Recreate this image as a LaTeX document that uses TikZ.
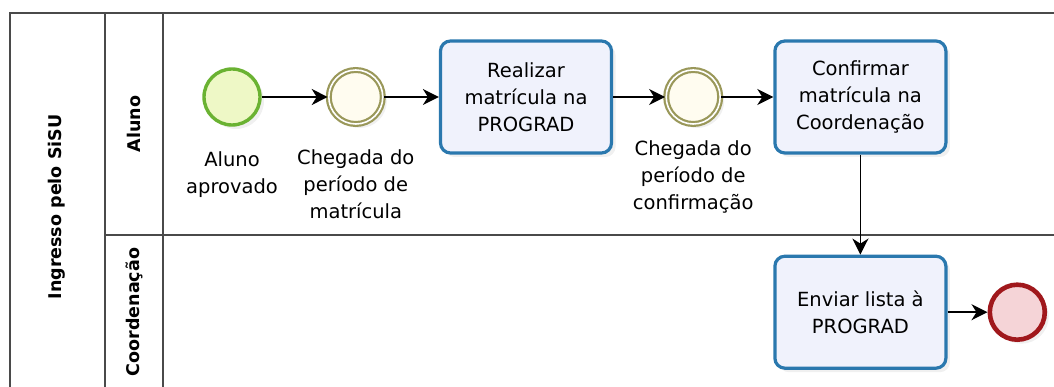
\documentclass[tikz,border=0pt]{standalone}
\usepackage{fontspec}
\setmainfont{DejaVu Sans}
\usepackage{tikz}
\usetikzlibrary{arrows.meta, positioning, shadows}

\definecolor{poolgray}{HTML}{4A4A4A}
\definecolor{taskblue}{HTML}{2A78AE}
\definecolor{taskfill}{HTML}{F0F2FC}
\definecolor{startgreen}{HTML}{6AB232}
\definecolor{startfill}{HTML}{EEF8C6}
\definecolor{interolive}{HTML}{9A985A}
\definecolor{interfill}{HTML}{FFFCF0}
\definecolor{endred}{HTML}{A0181C}
\definecolor{endfill}{HTML}{F5D4D7}

\begin{document}
\begin{tikzpicture}[-,>={Stealth[length=16pt,width=16pt,inset=5pt]},auto,node distance=52pt,
  line width=1.8pt,
  task node/.style={rectangle,rounded corners=10pt,draw=taskblue,line width=3.2pt,fill=taskfill,
    minimum width=171pt,minimum height=112pt,align=center,font=\fontsize{19.5}{27}\selectfont,
    drop shadow={shadow xshift=4pt,shadow yshift=-4pt,opacity=0.12}},
  event node/.style={circle,minimum size=55pt,inner sep=0pt,
    drop shadow={shadow xshift=4pt,shadow yshift=-4pt,opacity=0.12}},
  start node/.style={event node,minimum size=56pt,draw=startgreen,line width=3.4pt,fill=startfill},
  inter node/.style={event node,minimum size=54pt,draw=interolive,line width=2.2pt,double=white,double distance=1.6pt,fill=interfill},
  end node/.style={event node,draw=endred,line width=4.6pt,fill=endfill},
  event label/.style={align=center,font=\fontsize{19.5}{27}\selectfont},
  lane title/.style={rotate=90,font=\fontsize{17.5}{20}\selectfont\bfseries}]

  \useasboundingbox (0pt,0pt) rectangle (1054pt,-387pt);

  % pool and lanes
  \draw[poolgray,line width=1.5pt] (10pt,-395pt) -- (10pt,-13pt) -- (1060pt,-13pt);
  \draw[poolgray,line width=1.5pt] (105pt,-13pt) -- (105pt,-395pt);
  \draw[poolgray,line width=1.5pt] (163pt,-13pt) -- (163pt,-395pt);
  \draw[poolgray,line width=1.5pt] (105pt,-235pt) -- (1060pt,-235pt);

  \node[lane title] (pool) at (57pt,-207pt) {Ingresso pelo SiSU};
  \node[lane title] (aluno) at (134pt,-124pt) {Aluno};
  \node[lane title] (coord) at (134pt,-312pt) {Coordenação};

  % lane Aluno
  \node[start node, label={[event label,label distance=21pt]below:Aluno\\aprovado}] (inicio) at (232pt,-97pt) {};
  \node[inter node, right=66pt of inicio,
    label={[event label,label distance=20.7pt]below:Chegada do\\período de\\matrícula}] (chegada1) {};
  \node[task node, right=55pt of chegada1] (realizar) {Realizar\\matrícula na\\PROGRAD};
  \node[inter node, right=of realizar,
    label={[event label,label distance=11.7pt]below:Chegada do\\período de\\confirmação}] (chegada2) {};
  \node[task node, right=of chegada2] (confirmar) {Confirmar\\matrícula na\\Coordenação};

  % lane Coordenacao
  \node[task node, below=100pt of confirmar] (enviar) {Enviar lista à\\PROGRAD};
  \node[end node, right=40pt of enviar] (fim) {};

  \path[->]
    (inicio) edge (chegada1)
    (chegada1) edge (realizar)
    (realizar) edge (chegada2)
    (chegada2) edge (confirmar)
    (confirmar) edge (enviar)
    (enviar) edge (fim);
\end{tikzpicture}
\end{document}
